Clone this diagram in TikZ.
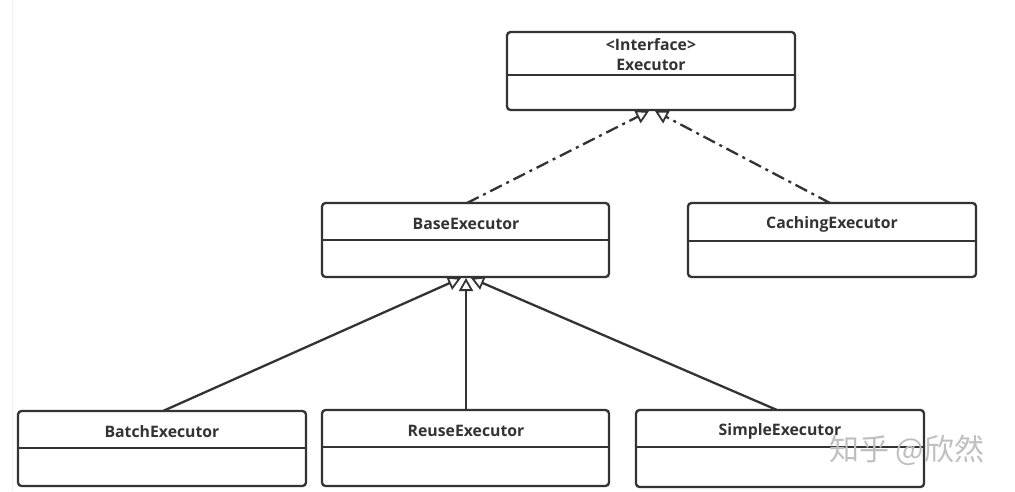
\documentclass[tikz,border=0pt]{standalone}
\usepackage{fontspec}
\setsansfont{Open Sans}
\newfontfamily\cjk{Noto Sans CJK SC}
\usetikzlibrary{arrows.meta}
\definecolor{edge}{HTML}{333333}
\definecolor{txt}{HTML}{333333}
\tikzset{
  cls/.style={draw=edge, line width=2.3pt, rounded corners=3.5pt},
  divline/.style={draw=edge, line width=2.3pt},
  lbl/.style={font=\sffamily\bfseries\fontsize{15.8}{18}\selectfont, text=txt, inner sep=0pt},
  realize/.style={draw=edge, line width=2.3pt, dash pattern=on 13pt off 5pt on 3pt off 5pt,
    -{Triangle[open, fill=white, length=13pt, width=14pt, line width=1.8pt]}},
  inherit/.style={draw=edge, line width=2.3pt,
    -{Triangle[open, fill=white, length=13pt, width=14pt, line width=1.8pt]}},
}
\begin{document}
\begin{tikzpicture}[x=1pt,y=-1pt]
\useasboundingbox (0,0) rectangle (1015,491);
\fill[white] (0,0) rectangle (1015,491);
\draw[black!6, line width=0.8pt] (12,0) -- (12,491);

% Executor interface
\draw[cls] (507,32) rectangle (795,110);
\draw[divline] (507,75) -- (795,75);
\node[lbl] (ifc) at (651,45) {<Interface>};
\node[lbl] (exe) at (651,65) {Executor};

% BaseExecutor
\draw[cls] (322,203) rectangle (609,277);
\draw[divline] (322,240) -- (609,240);
\node[lbl] (base) at (466,224) {BaseExecutor};

% CachingExecutor
\draw[cls] (688,203) rectangle (976,277);
\draw[divline] (688,241) -- (976,241);
\node[lbl] (cach) at (832,224) {CachingExecutor};

% Bottom row
\draw[cls] (18,411) rectangle (306,486);
\draw[divline] (18,448) -- (306,448);
\node[lbl] (batch) at (162,432) {BatchExecutor};

\draw[cls] (322,410) rectangle (609,486);
\draw[divline] (322,447) -- (609,447);
\node[lbl] (reuse) at (466,431) {ReuseExecutor};

\draw[cls] (636,410) rectangle (924,487);
\draw[divline] (636,447) -- (924,447);
\node[lbl] (simple) at (780,431) {SimpleExecutor};

% anchor coordinates
\coordinate (baseT) at (467,203);
\coordinate (cachT) at (830,203);
\coordinate (exeL) at (649,111);
\coordinate (exeR) at (655,111);
\coordinate (baseBL) at (461,278);
\coordinate (baseBM) at (466,278);
\coordinate (baseBR) at (471,278);
\coordinate (batchT) at (163,411);
\coordinate (reuseT) at (466,410);
\coordinate (simpleT) at (777,410);

\draw[realize] (baseT) -- (exeL);
\draw[realize] (cachT) -- (exeR);
\draw[inherit] (batchT) -- (baseBL);
\draw[inherit] (reuseT) -- (baseBM);
\draw[inherit] (simpleT) -- (baseBR);

% watermark
\node[font=\cjk\fontsize{30}{34}\selectfont, text=black!25, inner sep=0pt, anchor=west] (wm) at (829,450) {知乎 @欣然};
\end{tikzpicture}
\end{document}
